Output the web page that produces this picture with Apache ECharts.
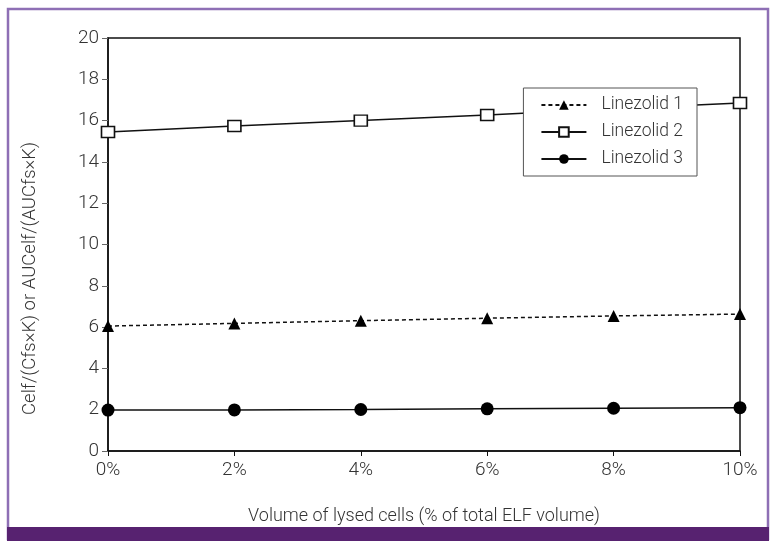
<!DOCTYPE html>
<html><head><meta charset="utf-8">
<script src="https://cdn.jsdelivr.net/npm/echarts@6/dist/echarts.min.js"></script>
<style>html,body{margin:0;padding:0;background:#fff}#c{width:776px;height:546px}</style>
</head><body><div id="c"></div>
<script>
const xValues = [0, 2, 4, 6, 8, 10];
const linezolid1 = [6.05, 6.18, 6.31, 6.43, 6.54, 6.63];
const linezolid2 = [15.45, 15.74, 16.0, 16.27, 16.57, 16.85];
const linezolid3 = [1.98, 1.99, 2.01, 2.04, 2.07, 2.1];
const seriesNames = ['Linezolid 1', 'Linezolid 2', 'Linezolid 3'];
const FONT = '"Liberation Sans Narrow", Roboto, sans-serif';
const toPairs = arr => xValues.map((x, i) => [x, arr[i]]);
const chart = echarts.init(document.getElementById('c'), null, {renderer: 'canvas'});
chart.setOption({
  animation: false,
  backgroundColor: '#fff',
  graphic: [
    {type: 'rect', shape: {x: 8, y: 9, width: 760, height: 530}, style: {fill: 'none', stroke: '#8e6fb5', lineWidth: 2.5}, z: 0},
    {type: 'rect', shape: {x: 7, y: 527, width: 762, height: 14}, style: {fill: '#572270'}, z: 1}
  ],
  grid: {left: 108, right: 36, top: 38, bottom: 95, show: true, borderColor: '#111', borderWidth: 1.5, backgroundColor: 'transparent'},
  legend: {
    right: 79, top: 88, orient: 'vertical', itemGap: 9, itemWidth: 45, itemHeight: 12,
    padding: [8, 14, 8, 17],
    borderColor: '#555', borderWidth: 1, backgroundColor: '#fff',
    textStyle: {fontFamily: FONT, fontSize: 17.5, fontWeight: 300, color: '#333', padding: [0, 0, 0, 10]},
    data: seriesNames
  },
  xAxis: {
    type: 'value', min: 0, max: 10, interval: 2,
    name: 'Volume of lysed cells (% of total ELF volume)', nameLocation: 'middle', nameGap: 56,
    nameTextStyle: {fontFamily: FONT, fontSize: 18, fontWeight: 300, color: '#333'},
    axisLine: {lineStyle: {color: '#111', width: 1.5}},
    axisTick: {show: true, length: 5, lineStyle: {color: '#111'}},
    axisLabel: {formatter: '{value}%', fontFamily: FONT, fontSize: 19, fontWeight: 300, color: '#333', margin: 10},
    splitLine: {show: false}
  },
  yAxis: {
    type: 'value', min: 0, max: 20, interval: 2,
    name: 'Celf/(Cfs\u00d7K) or AUCelf/(AUCfs\u00d7K)', nameLocation: 'middle', nameGap: 68,
    nameTextStyle: {fontFamily: FONT, fontSize: 18.5, fontWeight: 300, color: '#333', padding: [0, 68, 0, 0]},
    axisLine: {lineStyle: {color: '#111', width: 1.5}},
    axisTick: {show: true, length: 6, lineStyle: {color: '#666'}},
    axisLabel: {fontFamily: FONT, fontSize: 19, fontWeight: 300, color: '#333', margin: 9},
    splitLine: {show: false}
  },
  series: [
    {name: seriesNames[0], type: 'line', data: toPairs(linezolid1), symbol: 'triangle', symbolSize: 12,
      lineStyle: {color: '#111', width: 1.5, type: [4, 3]}, itemStyle: {color: '#000'}},
    {name: seriesNames[1], type: 'line', data: toPairs(linezolid2), symbol: 'rect', symbolSize: [13, 11],
      lineStyle: {color: '#111', width: 1.5}, itemStyle: {color: '#fff', borderColor: '#111', borderWidth: 1.5}},
    {name: seriesNames[2], type: 'line', data: toPairs(linezolid3), symbol: 'circle', symbolSize: 13,
      lineStyle: {color: '#111', width: 1.5}, itemStyle: {color: '#000'}}
  ]
});
</script></body></html>
